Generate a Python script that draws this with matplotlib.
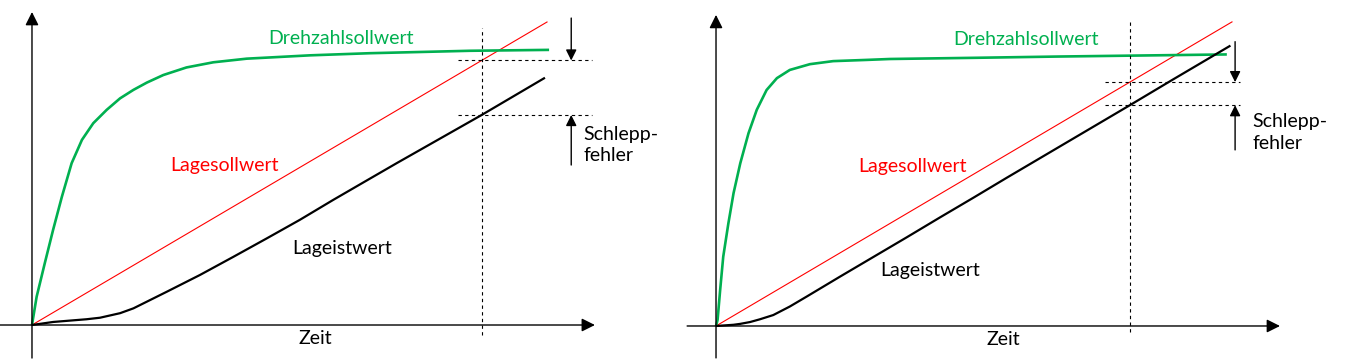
import matplotlib.pyplot as plt

# values (time / value in arbitrary units, 0..10)
# left panel: slow speed controller
left_green_t = [0, 0.09, 0.25, 0.41, 0.58, 0.77, 0.97, 1.19, 1.45, 1.71, 1.97,
                2.23, 2.55, 3.00, 3.52, 4.17, 4.62, 5.40, 6.56, 8.50, 10.04]
left_green_v = [0, 0.93, 2.05, 3.14, 4.23, 5.34, 6.11, 6.66, 7.10, 7.48, 7.76,
                8.00, 8.25, 8.50, 8.67, 8.79, 8.83, 8.90, 8.97, 9.05, 9.08]
left_black_t = [0, 0.41, 1.06, 1.32, 1.71, 1.97, 2.62, 3.26, 3.91, 4.56, 5.20,
                5.85, 6.50, 7.08, 7.90, 8.73, 9.96]
left_black_v = [0, 0.10, 0.19, 0.24, 0.39, 0.55, 1.10, 1.65, 2.25, 2.86, 3.47,
                4.13, 4.77, 5.34, 6.13, 6.93, 8.16]
left_red_t = [0, 10]
left_red_v = [0, 10]
left_mark_t = 8.73

# right panel: fast speed controller
right_green_t = [0, 0.03, 0.08, 0.14, 0.24, 0.34, 0.47, 0.63, 0.79, 0.98, 1.18,
                 1.43, 1.82, 2.27, 2.92, 3.37, 5.06, 6.60, 9.90]
right_green_v = [0, 0.20, 1.18, 2.28, 3.38, 4.37, 5.35, 6.34, 7.11, 7.76, 8.15,
                 8.42, 8.61, 8.71, 8.75, 8.78, 8.82, 8.86, 8.93]
right_black_t = [0, 0.34, 0.47, 0.66, 0.85, 1.11, 1.43, 1.76, 2.40, 3.05, 3.70,
                 4.34, 4.99, 5.63, 6.28, 7.25, 8.02, 8.86, 9.97]
right_black_v = [0, 0.04, 0.07, 0.13, 0.22, 0.36, 0.64, 0.97, 1.62, 2.27, 2.92,
                 3.57, 4.22, 4.87, 5.52, 6.49, 7.26, 8.11, 9.22]
right_red_t = [0, 10]
right_red_v = [0, 10]
right_mark_t = 8.02

GREEN = '#00B050'
RED = '#FF0000'
FONT = 'Lato'

fig = plt.figure(figsize=(13.45, 3.64), dpi=100)


def interp(ts, vs, t):
    for i in range(len(ts) - 1):
        if ts[i] <= t <= ts[i + 1]:
            f = (t - ts[i]) / (ts[i + 1] - ts[i])
            return vs[i] + f * (vs[i + 1] - vs[i])
    return vs[-1]


def arrow(ax, x0, y0, x1, y1, scale=16):
    ax.annotate('', xy=(x1, y1), xytext=(x0, y0),
                arrowprops=dict(arrowstyle='-|>', color='black', lw=1.0,
                                mutation_scale=scale, shrinkA=0, shrinkB=0))


def panel(rect, xlim, ylim, g_t, g_v, b_t, b_v, r_t, r_v, mark_t, cfg):
    ax = fig.add_axes(rect)
    ax.set_xlim(*xlim)
    ax.set_ylim(*ylim)
    ax.axis('off')

    # axes with arrows
    arrow(ax, cfg['xaxis'][0], 0, cfg['xaxis'][1], 0, 20)
    arrow(ax, 0, cfg['yaxis'][0], 0, cfg['yaxis'][1], 20)

    ax.plot(r_t, r_v, color=RED, lw=0.8)
    ax.plot(g_t, g_v, color=GREEN, lw=1.9, solid_capstyle='butt',
            solid_joinstyle='round')
    ax.plot(b_t, b_v, color='black', lw=1.6, solid_capstyle='butt',
            solid_joinstyle='round')

    red_at = interp(r_t, r_v, mark_t)
    black_at = interp(b_t, b_v, mark_t)
    dash = dict(color='black', lw=0.8, dashes=(3, 3))
    ax.plot([mark_t, mark_t], cfg['vdash'], **dash)
    ax.plot(cfg['hdash'], [red_at, red_at], **dash)
    ax.plot(cfg['hdash'], [black_at, black_at], **dash)

    arrow(ax, cfg['arr_x'], cfg['arr_top'], cfg['arr_x'], red_at)
    arrow(ax, cfg['arr_x'], cfg['arr_bot'], cfg['arr_x'], black_at)

    fs = 14
    ax.text(*cfg['green_lbl'], 'Drehzahlsollwert', color=GREEN, fontsize=fs,
            family=FONT, ha='center', va='center')
    ax.text(*cfg['red_lbl'], 'Lagesollwert', color=RED, fontsize=fs,
            family=FONT, ha='center', va='center')
    ax.text(*cfg['black_lbl'], 'Lageistwert', color='black', fontsize=fs,
            family=FONT, ha='center', va='center')
    ax.text(*cfg['zeit_lbl'], 'Zeit', color='black', fontsize=fs,
            family=FONT, ha='center', va='center')
    ax.text(cfg['sch_lbl'][0], cfg['sch_lbl'][1], 'Schlepp-\nfehler',
            color='black', fontsize=fs, family=FONT, ha='left', va='center',
            linespacing=1.3)
    return ax


panel([0, 0, 620 / 1345, 1], (-0.621, 11.417), (-1.287, 10.726),
      left_green_t, left_green_v, left_black_t, left_black_v,
      left_red_t, left_red_v, left_mark_t,
      dict(xaxis=(-0.621, 10.93), yaxis=(-1.09, 10.33),
           vdash=(-0.33, 9.80), hdash=(8.27, 10.87),
           arr_x=10.47, arr_top=10.13, arr_bot=5.28,
           green_lbl=(6.0, 9.47), red_lbl=(3.73, 5.25),
           black_lbl=(6.02, 2.54), zeit_lbl=(5.51, -0.43),
           sch_lbl=(10.70, 5.95)))

panel([680 / 1345, 0, 665 / 1345, 1], (-0.698, 12.19), (-1.25, 10.72),
      right_green_t, right_green_v, right_black_t, right_black_v,
      right_red_t, right_red_v, right_mark_t,
      dict(xaxis=(-0.56, 10.93), yaxis=(-1.05, 10.23),
           vdash=(-0.2, 10.0), hdash=(7.54, 10.16),
           arr_x=10.06, arr_top=9.35, arr_bot=5.79,
           green_lbl=(6.01, 9.41), red_lbl=(3.80, 5.23),
           black_lbl=(4.15, 1.84), zeit_lbl=(5.56, -0.43),
           sch_lbl=(10.39, 6.36)))

fig.savefig('out.png', dpi=100)
